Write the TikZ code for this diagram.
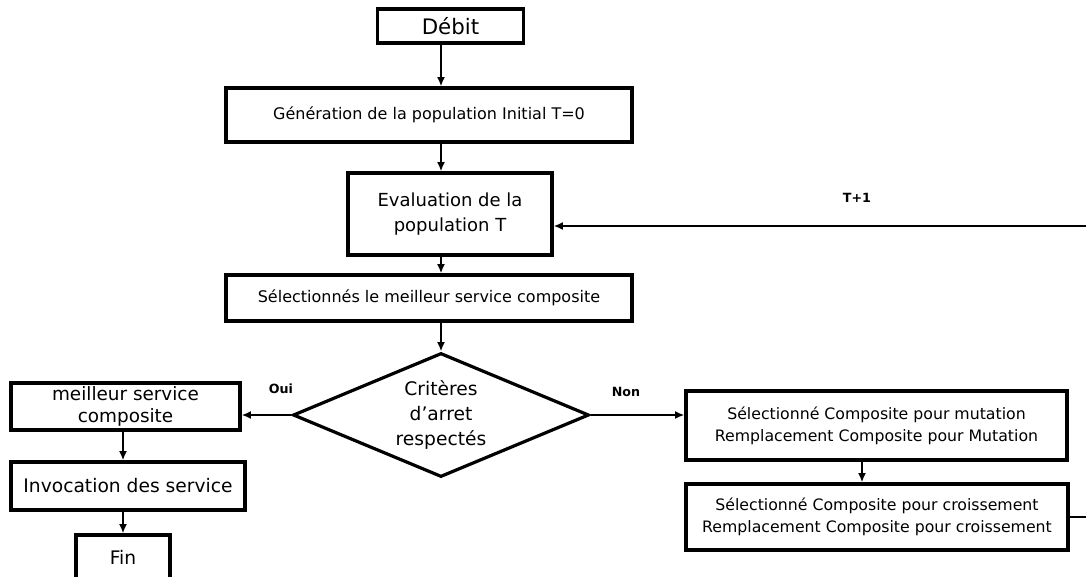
\documentclass[tikz,border=0pt]{standalone}
\usepackage{fontspec}
\setmainfont{DejaVu Sans}
\usetikzlibrary{arrows.meta,shapes.geometric}
\begin{document}
\begin{tikzpicture}[x=0.75pt,y=-0.75pt,
  blk/.style={draw,line width=2.4pt,inner sep=2pt,align=center,fill=white},
  arr/.style={line width=2pt,-{Latex[length=7pt,width=6pt]}},
  lbl/.style={font=\fontsize{9.5}{11}\selectfont\bfseries,inner sep=0pt}]
\useasboundingbox (0,0) rectangle (1086,576);

% main column
\node[blk,minimum width=110pt,minimum height=25.5pt,font=\fontsize{16}{18}\selectfont] (deb) at (450.5,26) {Débit};
\node[blk,minimum width=304.5pt,minimum height=40.5pt,font=\fontsize{12}{14}\selectfont] (gen) at (429,115) {Génération de la population Initial T=0};
\node[blk,minimum width=153pt,minimum height=61.5pt,font=\fontsize{13.5}{19}\selectfont] (eval) at (450,214) {Evaluation de la\\population T};
\node[blk,minimum width=304.5pt,minimum height=34.5pt,font=\fontsize{12}{14}\selectfont] (sel) at (429,298) {Sélectionnés le meilleur service composite};
\node[blk,shape=diamond,aspect=2.4,inner sep=0pt,minimum width=222pt,minimum height=93pt,font=\fontsize{14}{19}\selectfont] (crit) at (441,415) {Critères\\d'arret\\respectés};

% left branch
\node[blk,minimum width=171.75pt,minimum height=35.25pt,font=\fontsize{13.8}{16.5}\selectfont] (best) at (125.5,406.5) {meilleur service\\composite};
\node[blk,minimum width=175.5pt,minimum height=36pt,font=\fontsize{14}{16}\selectfont] (inv) at (128,486) {Invocation des service};
\node[blk,minimum width=70.5pt,minimum height=33pt,font=\fontsize{14}{16}\selectfont] (fin) at (123,557) {Fin};

% right branch
\node[blk,minimum width=285.75pt,minimum height=51.75pt,font=\fontsize{11.8}{16.5}\selectfont] (mut) at (876.5,425.5) {Sélectionné Composite pour mutation\\Remplacement Composite pour Mutation};
\node[blk,minimum width=286.5pt,minimum height=49.5pt,font=\fontsize{11.8}{16.5}\selectfont] (cro) at (877,517) {Sélectionné Composite pour croissement\\Remplacement Composite pour croissement};

% helper coordinates
\coordinate (spine) at (441,0);
\coordinate (loopT) at (1092,226);
\coordinate (loopR) at (1092,517);
\coordinate (mcol) at (862,0);

% connectors
\draw[arr] (deb.south -| spine) -- (gen.north -| spine);
\draw[arr] (gen.south -| spine) -- (eval.north -| spine);
\draw[arr] (eval.south -| spine) -- (sel.north -| spine);
\draw[arr] (sel.south -| spine) -- (crit.north);
\draw[arr] (crit.west) -- (best.east |- crit.west);
\draw[arr] (crit.east) -- (mut.west |- crit.east);
\draw[arr] (best.south -| fin.north) -- (inv.north -| fin.north);
\draw[arr] (inv.south -| fin.north) -- (fin.north);
\draw[arr] (mut.south -| mcol) -- (cro.north -| mcol);
\draw[arr] (cro.east) -- (loopR) -- (loopT) -- (eval.east |- loopT);

% labels
\node[lbl] (tplus) at (857,198) {T+1};
\node[lbl] (oui) at (281,389) {Oui};
\node[lbl] (non) at (626,392) {Non};
\end{tikzpicture}
\end{document}
